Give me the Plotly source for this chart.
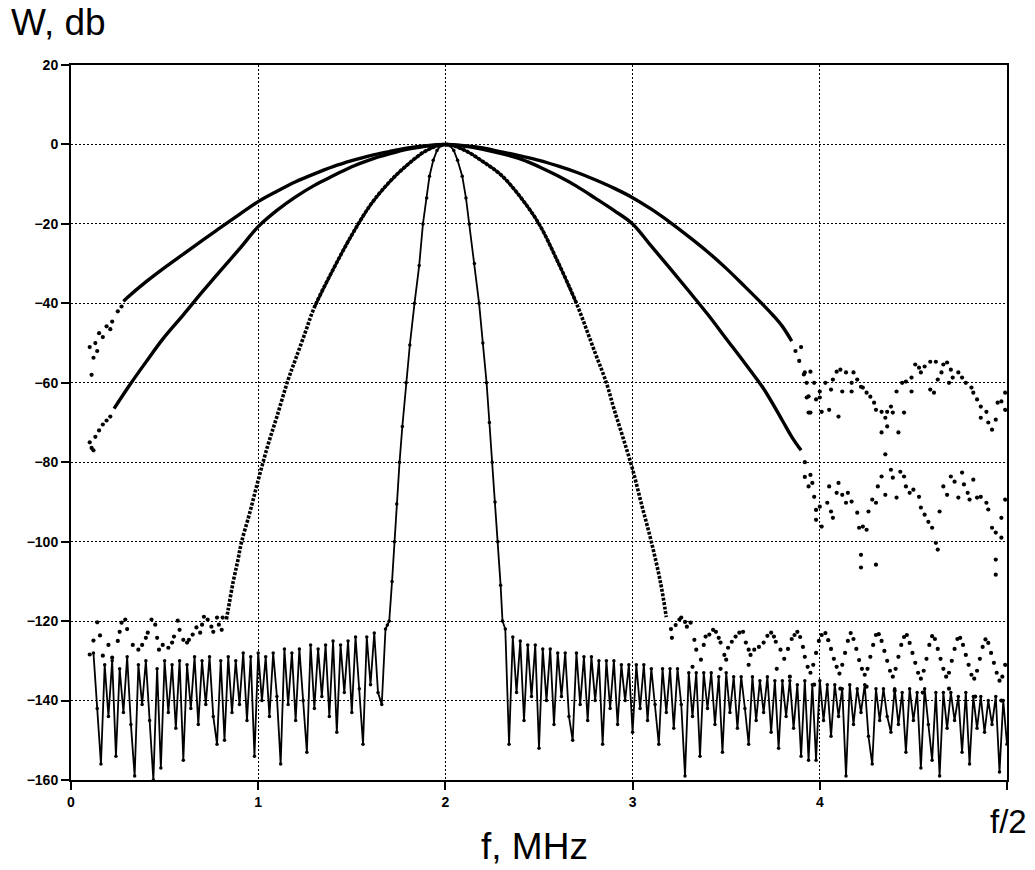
import plotly.graph_objects as go

# ---------------- data ----------------
# Curve A (widest main lobe)
a_f = [0.28, 0.3, 0.4, 0.5, 0.6, 0.7, 0.8, 0.9, 1.0, 1.1, 1.2, 1.3, 1.4, 1.5, 1.6, 1.7, 1.8, 1.9, 2.0,
       2.1, 2.2, 2.3, 2.4, 2.5, 2.6, 2.7, 2.8, 2.9, 3.0, 3.1, 3.2, 3.3, 3.4, 3.5, 3.6, 3.7, 3.75, 3.8, 3.85]
a_db = [-39.5, -38.6, -34.6, -31.0, -27.6, -24.2, -20.9, -17.6, -14.4, -11.8, -9.4, -7.4, -5.6, -4.1, -2.8, -1.8, -0.9, -0.3, 0,
        -0.3, -0.9, -1.9, -2.9, -4.0, -5.4, -7.0, -8.9, -11.0, -13.4, -16.3, -19.6, -23.2, -27.0, -31.2, -35.8, -40.5, -43.0, -45.8, -49.5]
# Curve A scattered points (edges / side lobes)
a_pts_f = [0.10, 0.11, 0.12, 0.13, 0.14, 0.15, 0.17, 0.19, 0.21, 0.22, 0.25, 0.27,
           3.87, 3.89, 3.90, 3.915, 3.92, 3.93, 3.93, 3.94, 3.94, 3.95, 3.95, 3.97, 3.98, 4.00, 4.00, 4.01, 4.03, 4.05, 4.06,
           4.07, 4.09, 4.10, 4.11, 4.12, 4.14, 4.17, 4.17, 4.18, 4.20, 4.22, 4.23, 4.25, 4.27, 4.29, 4.30, 4.33, 4.33,
           4.35, 4.35, 4.36, 4.36, 4.38, 4.39, 4.41, 4.42, 4.44, 4.45, 4.46, 4.49, 4.49, 4.51, 4.53, 4.54, 4.56, 4.59,
           4.59, 4.61, 4.62, 4.63, 4.65, 4.66, 4.68, 4.69, 4.70, 4.71, 4.74, 4.76, 4.78, 4.81, 4.82, 4.84, 4.86, 4.86,
           4.89, 4.90, 4.92, 4.94, 4.95, 4.97, 4.99, 4.99]
a_pts_db = [-51, -58, -53.7, -50, -52, -47.5, -48.5, -45.8, -46.5, -44.6, -42, -40.8,
            -52, -54.5, -51, -57.9, -57.4, -60, -63.7, -63.4, -67.5, -57.2, -67.5, -60, -64.2, -62.2, -63.7, -67.3, -60, -66.8, -61.7,
            -59.2, -57.2, -68.5, -56.7, -62.2, -57.4, -60, -62.2, -57.4, -59.2, -61, -61.2, -62.5, -63.5, -65, -66.8, -67.3, -72.5,
            -68.8, -78, -67.3, -71, -66, -67.5, -62.2, -72.5, -60, -67.5, -59.7, -58.7, -62.2, -55.4, -56.2, -57.4, -55.9, -54.7,
            -61.7, -62.5, -54.7, -59.2, -57.4, -55.4, -54.9, -60, -56.7, -58.7, -57.4, -58.7, -60, -61.2, -62.5, -64.2, -66, -68.8,
            -67.3, -70, -71.8, -69.3, -65, -64.7, -62.5, -66.8]

# Curve B (second widest main lobe)
b_f = [0.23, 0.31, 0.4, 0.49, 0.6, 0.7, 0.8, 0.9, 1.0, 1.1, 1.2, 1.3, 1.4, 1.5, 1.6, 1.7, 1.8, 1.9, 2.0,
       2.1, 2.2, 2.3, 2.41, 2.5, 2.6, 2.7, 2.8, 2.9, 3.0, 3.1, 3.2, 3.3, 3.4, 3.5, 3.6, 3.7, 3.8, 3.85, 3.9]
b_db = [-66.5, -60.8, -54.8, -49, -42.9, -37.2, -31.7, -26.3, -20.7, -16.6, -13.2, -10.3, -7.9, -5.6, -3.8, -2.4, -1.2, -0.4, 0,
        -0.4, -1.2, -2.3, -3.8, -5.6, -7.9, -10.5, -13.5, -16.6, -20, -25.6, -31.2, -36.9, -42.7, -48.9, -55.1, -61.5, -69.5, -73.6, -77.0]
b_pts_f = [0.10, 0.11, 0.12, 0.13, 0.15, 0.17, 0.19, 0.21,
           3.92, 3.92, 3.95, 3.96, 3.94, 3.97, 3.98, 3.98, 4.00, 4.01, 4.04, 4.05, 4.06, 4.07, 4.09, 4.10, 4.12, 4.14,
           4.15, 4.17, 4.20, 4.21, 4.23, 4.25, 4.22, 4.22, 4.30, 4.26, 4.28, 4.30, 4.31, 4.33, 4.35, 4.38, 4.39, 4.41,
           4.43, 4.45, 4.46, 4.48, 4.50, 4.53, 4.54, 4.56, 4.58, 4.60, 4.62, 4.63, 4.64, 4.66, 4.68, 4.70, 4.72, 4.74,
           4.76, 4.77, 4.79, 4.80, 4.82, 4.84, 4.86, 4.89, 4.90, 4.92, 4.94, 4.97, 4.94, 4.94, 4.97, 4.99]
b_pts_db = [-75, -76.4, -77, -73.6, -72, -70.5, -69.5, -68.5,
            -80, -83.7, -83.2, -85.2, -86.1, -88.7, -92, -94.5, -91.2, -96.2, -90.2, -86.1, -92.4, -94, -87.7, -85.2, -88.2, -90.2,
            -87.7, -89.9, -92.7, -96.5, -96.2, -97, -103.3, -106.5, -105.8, -92.4, -89.4, -90.2, -86.1, -83.6, -88.2, -81.9, -83.9, -88.9,
            -82.4, -83.6, -86.1, -87.7, -86.9, -88.7, -91.4, -93.2, -95, -96.5, -100.3, -102, -92.4, -86.1, -88.2, -83.6, -84.9, -88.9,
            -82.6, -85.6, -87.7, -89.4, -84.4, -88.9, -88.7, -90.2, -91.9, -96.5, -97.7, -99, -104.5, -108.3, -94, -89.4]

# Curve C (medium main lobe)
c_f = [0.83, 0.84, 0.865, 0.89, 0.91, 0.955, 1.0, 1.05, 1.1, 1.16, 1.2, 1.25, 1.3, 1.4, 1.5, 1.6, 1.7, 1.8, 1.9, 2.0,
       2.1, 2.2, 2.3, 2.4, 2.5, 2.6, 2.7, 2.8, 2.86, 2.9, 2.95, 3.0, 3.05, 3.1, 3.15, 3.18]
c_db = [-119.6, -117, -110.4, -105, -100.3, -92.7, -84.5, -76, -68.5, -59.2, -54, -47.5, -41, -31.5, -22.8, -15.2, -9.5, -5.0, -1.5, 0,
        -1.4, -4.3, -7.8, -13.2, -20, -29.5, -40, -52.5, -60, -66.5, -74, -81.8, -91, -100, -110.5, -119]
c_pts_f = [0.10, 0.12, 0.14, 0.155, 0.17, 0.20, 0.22, 0.25, 0.26, 0.27, 0.29, 0.30, 0.33, 0.36, 0.38, 0.40, 0.41, 0.43,
           0.45, 0.46, 0.47, 0.49, 0.52, 0.54, 0.55, 0.57, 0.58, 0.60, 0.62, 0.63, 0.65, 0.67, 0.69, 0.70, 0.71, 0.73,
           0.75, 0.76, 0.78, 0.79, 0.805, 0.81,
           3.205, 3.21, 3.23, 3.25, 3.26, 3.28, 3.29, 3.31, 3.33, 3.34, 3.365, 3.38, 3.39, 3.41, 3.43, 3.445, 3.46, 3.47,
           3.49, 3.50, 3.51, 3.53, 3.55, 3.57, 3.59, 3.605, 3.62, 3.63, 3.65, 3.675, 3.70, 3.72, 3.74, 3.755, 3.765, 3.79,
           3.81, 3.83, 3.85, 3.865, 3.88, 3.895, 3.91, 3.92, 3.935, 3.95, 3.965, 3.98, 3.995, 4.01, 4.03, 4.045, 4.06, 4.075,
           4.09, 4.105, 4.12, 4.135, 4.15, 4.165, 4.18, 4.195, 4.21, 4.225, 4.24, 4.255, 4.27, 4.285, 4.30, 4.315, 4.33,
           4.345, 4.36, 4.375, 4.39, 4.405, 4.42, 4.435, 4.45, 4.465, 4.48, 4.495, 4.51, 4.525, 4.54, 4.555, 4.57, 4.585,
           4.60, 4.615, 4.63, 4.645, 4.66, 4.675, 4.69, 4.705, 4.72, 4.735, 4.75, 4.765, 4.78, 4.795, 4.81, 4.825, 4.84,
           4.855, 4.87, 4.885, 4.90, 4.915, 4.93, 4.945, 4.96, 4.975, 4.99,
           3.32, 3.47, 3.62, 3.77, 3.84, 3.97, 4.11, 4.25, 4.40, 4.55, 4.69, 4.83, 4.97]
c_pts_db = [-128.4, -124.9, -120.3, -123.6, -128.7, -126, -129.2, -125, -122.7, -120.4, -119.6, -122, -126, -127.2, -126, -124.2, -122.9, -119.6,
            -120.9, -124.2, -127.2, -126, -126.7, -125.4, -123.9, -119.9, -122.2, -124.7, -125.4, -124.7, -123.4, -121.6, -122.9, -120.9, -118.9, -119.6,
            -121.4, -122.7, -119.1, -120.9, -122.2, -119.1,
            -122, -124.2, -121, -119.6, -119.1, -120.2, -121.4, -120.4, -124.7, -127.2, -129.7, -126, -123.9, -123.4, -122.2, -122.7, -124.2, -125.4,
            -128.5, -129.7, -126.7, -125.2, -123.9, -122.9, -122.7, -125.4, -127.2, -128.5, -127.2, -126.5, -125.4, -123.7, -122.9, -123.9, -125.2, -127.2,
            -129.5, -127, -124.5, -123.5, -122.7, -124, -126.5, -129, -131.5, -133, -131, -128, -125, -123.5, -123, -124.8, -127, -129.5,
            -131.5, -133.2, -131, -128, -125, -123, -124.5, -127, -129.8, -132, -133.5, -132, -129, -126, -123.5, -123.3, -125,
            -127.5, -130, -132.5, -134, -132, -129, -126, -124, -123.5, -125.5, -128, -130.5, -133, -134.5, -132.5, -129.5, -126,
            -123.8, -124.5, -127, -129.5, -132, -134, -133, -130, -127, -124.5, -124.2, -126, -128.5, -131, -133.5, -134.5, -132.5,
            -129.5, -126.5, -124.6, -125.5, -128, -130.5, -133, -135, -134, -131,
            -131.5, -132, -131, -132, -134, -136, -137, -136.5, -137.5, -138, -137, -139, -140]

# Curve D (narrow main lobe) with its noise floor on both sides
noise_left_f = [0.12, 0.14, 0.16, 0.18, 0.20, 0.22, 0.24, 0.26, 0.28, 0.30, 0.32, 0.34, 0.36, 0.38, 0.40, 0.42, 0.44, 0.46,
                0.48, 0.50, 0.52, 0.54, 0.56, 0.58, 0.60, 0.62, 0.64, 0.66, 0.68, 0.70, 0.72, 0.74, 0.76, 0.78, 0.80, 0.82,
                0.84, 0.86, 0.88, 0.90, 0.92, 0.94, 0.96, 0.98, 1.00, 1.02, 1.04, 1.06, 1.08, 1.10, 1.12, 1.14, 1.16, 1.18,
                1.20, 1.22, 1.24, 1.26, 1.28, 1.30, 1.32, 1.34, 1.36, 1.38, 1.40, 1.42, 1.44, 1.46, 1.48, 1.50, 1.52, 1.54,
                1.56, 1.58, 1.60, 1.62, 1.64, 1.66, 1.68]
noise_left_db = [-128, -142, -156, -131, -144, -130, -154, -132, -143, -129, -146, -159, -131, -141, -130, -145, -160, -132,
                 -157, -130, -143, -131, -147, -130, -155, -131, -142, -129, -146, -130, -141, -129, -144, -151, -130, -150,
                 -129, -143, -130, -141, -128, -145, -129, -154, -128, -140, -129, -144, -128, -139, -156, -127, -141, -128,
                 -145, -127, -140, -153, -126, -142, -127, -139, -126, -144, -125, -148, -126, -138, -125, -143, -124, -137,
                 -151, -124, -136, -123, -138, -141, -122]
d_f = [1.69, 1.70, 1.715, 1.728, 1.74, 1.755, 1.77, 1.79, 1.81, 1.835, 1.86, 1.88, 1.90, 1.915, 1.935, 1.955, 1.975, 2.0,
       2.025, 2.045, 2.065, 2.09, 2.11, 2.128, 2.155, 2.18, 2.20, 2.22, 2.235, 2.25, 2.265, 2.28, 2.295, 2.305]
d_db = [-121, -120, -110, -100, -90.5, -80, -71, -60, -50.5, -40, -30.5, -20, -13.5, -8, -4, -1.5, -0.3, 0,
        -0.3, -1.5, -4, -8, -13.5, -20, -30, -40, -50, -60, -70, -80, -90, -100, -111, -120]
noise_right_f = [2.32, 2.34, 2.36, 2.38, 2.40, 2.42, 2.44, 2.46, 2.48, 2.50, 2.52, 2.54, 2.56, 2.58, 2.60, 2.62, 2.64, 2.66,
                 2.68, 2.70, 2.72, 2.74, 2.76, 2.78, 2.80, 2.82, 2.84, 2.86, 2.88, 2.90, 2.92, 2.94, 2.96, 2.98, 3.00, 3.02,
                 3.04, 3.06, 3.08, 3.10, 3.12, 3.14, 3.16, 3.18, 3.20, 3.22, 3.24, 3.26, 3.28, 3.30, 3.32, 3.34, 3.36, 3.38,
                 3.40, 3.42, 3.44, 3.46, 3.48, 3.50, 3.52, 3.54, 3.56, 3.58, 3.60, 3.62, 3.64, 3.66, 3.68, 3.70, 3.72, 3.74,
                 3.76, 3.78, 3.80, 3.82, 3.84, 3.86, 3.88, 3.90, 3.92, 3.94, 3.96, 3.98, 4.00, 4.02, 4.04, 4.06, 4.08, 4.10,
                 4.12, 4.14, 4.16, 4.18, 4.20, 4.22, 4.24, 4.26, 4.28, 4.30, 4.32, 4.34, 4.36, 4.38, 4.40, 4.42, 4.44, 4.46,
                 4.48, 4.50, 4.52, 4.54, 4.56, 4.58, 4.60, 4.62, 4.64, 4.66, 4.68, 4.70, 4.72, 4.74, 4.76, 4.78, 4.80, 4.82,
                 4.84, 4.86, 4.88, 4.90, 4.92, 4.94, 4.96, 4.98, 5.00]
noise_right_db = [-122, -151, -124, -138, -125, -145, -126, -139, -126, -152, -127, -140, -127, -146, -128, -139, -128, -144,
                  -150, -128, -141, -129, -145, -129, -140, -130, -151, -130, -142, -130, -146, -131, -140, -131, -148, -131,
                  -142, -131, -145, -132, -141, -151, -132, -143, -132, -147, -132, -141, -159, -133, -144, -133, -154, -133,
                  -142, -133, -146, -134, -153, -133, -143, -134, -147, -134, -142, -151, -134, -145, -135, -143, -134, -148,
                  -135, -152, -135, -144, -135, -147, -136, -154, -135, -155, -136, -155, -135, -145, -136, -149, -136, -144,
                  -137, -159, -136, -146, -137, -143, -136, -149, -156, -137, -145, -137, -144, -148, -137, -146, -138, -153,
                  -137, -145, -138, -157, -137, -146, -155, -138, -159, -138, -147, -138, -145, -139, -153, -138, -156, -139,
                  -147, -139, -148, -140, -146, -139, -158, -140, -151]

x_tick_vals = [0, 1, 2, 3, 4, 5]
x_tick_text = ["0", "1", "2", "3", "4", ""]
y_tick_vals = [20, 0, -20, -40, -60, -80, -100, -120, -140, -160]

# ---------------- figure ----------------
INK = "black"
fig = go.Figure()

# noise floor + narrow lobe (one continuous polyline with dots)
fig.add_trace(go.Scatter(
    x=noise_left_f + d_f + noise_right_f,
    y=noise_left_db + d_db + noise_right_db,
    mode="lines+markers",
    line=dict(color=INK, width=1.8),
    marker=dict(color=INK, size=3.5),
    hoverinfo="skip"))

# scattered side-lobe points
for pf, pdb in [(a_pts_f, a_pts_db), (b_pts_f, b_pts_db), (c_pts_f, c_pts_db)]:
    fig.add_trace(go.Scatter(x=pf, y=pdb, mode="markers",
                             marker=dict(color=INK, size=4.2), hoverinfo="skip"))

# main lobes: curve C drawn dotted, with its flat top part solid (dots merge there)
fig.add_trace(go.Scatter(x=c_f, y=c_db, mode="lines",
                         line=dict(color=INK, width=3.6, dash="3px,1.5px", shape="spline"), hoverinfo="skip"))
c_top = [(f, v) for f, v in zip(c_f, c_db) if v > -45]
fig.add_trace(go.Scatter(x=[p[0] for p in c_top], y=[p[1] for p in c_top], mode="lines",
                         line=dict(color=INK, width=2.8, shape="spline"), hoverinfo="skip"))
fig.add_trace(go.Scatter(x=b_f, y=b_db, mode="lines",
                         line=dict(color=INK, width=3.4, shape="spline"), hoverinfo="skip"))
fig.add_trace(go.Scatter(x=a_f, y=a_db, mode="lines",
                         line=dict(color=INK, width=3.4, shape="spline"), hoverinfo="skip"))

FONT = "Liberation Sans, Arial, sans-serif"
fig.update_layout(
    width=1035, height=870,
    margin=dict(l=71, r=28, t=65, b=90),
    paper_bgcolor="white", plot_bgcolor="white",
    showlegend=False,
    font=dict(family=FONT, color=INK),
    xaxis=dict(range=[0, 5], tickvals=x_tick_vals, ticktext=x_tick_text,
               showgrid=True, gridcolor=INK, gridwidth=1, griddash="2px,2px",
               showline=True, linecolor=INK, linewidth=2, mirror=True,
               ticks="outside", ticklen=8, tickwidth=2, tickcolor=INK,
               tickfont=dict(size=14, family=FONT, color=INK, weight="bold"),
               zeroline=False),
    yaxis=dict(range=[-160, 20], tickvals=y_tick_vals,
               showgrid=True, gridcolor=INK, gridwidth=1, griddash="2px,2px",
               showline=True, linecolor=INK, linewidth=2, mirror=True,
               ticks="outside", ticklen=8, tickwidth=2, tickcolor=INK,
               tickfont=dict(size=14, family=FONT, color=INK, weight="bold"),
               zeroline=False),
    annotations=[
        dict(text="W, db", xref="paper", yref="paper", x=-0.0662, y=1.0594,
             xanchor="left", yanchor="middle", showarrow=False,
             font=dict(size=37, family=FONT, color=INK)),
        dict(text="f, MHz", xref="paper", yref="paper", x=0.4947, y=-0.0937,
             xanchor="center", yanchor="middle", showarrow=False,
             font=dict(size=37, family=FONT, color=INK)),
        dict(text="f/2", xref="paper", yref="paper", x=1.002, y=-0.0587,
             xanchor="center", yanchor="middle", showarrow=False,
             font=dict(size=33, family=FONT, color=INK)),
    ],
)

fig.write_html("out.html", config={"displayModeBar": False})

# remove the default page margin so the figure sits at the window's top-left corner
with open("out.html", "r", encoding="utf-8") as fh:
    page = fh.read()
page = page.replace("<head>", "<head><style>html,body{margin:0;padding:0;overflow:hidden;}</style>", 1)
with open("out.html", "w", encoding="utf-8") as fh:
    fh.write(page)
